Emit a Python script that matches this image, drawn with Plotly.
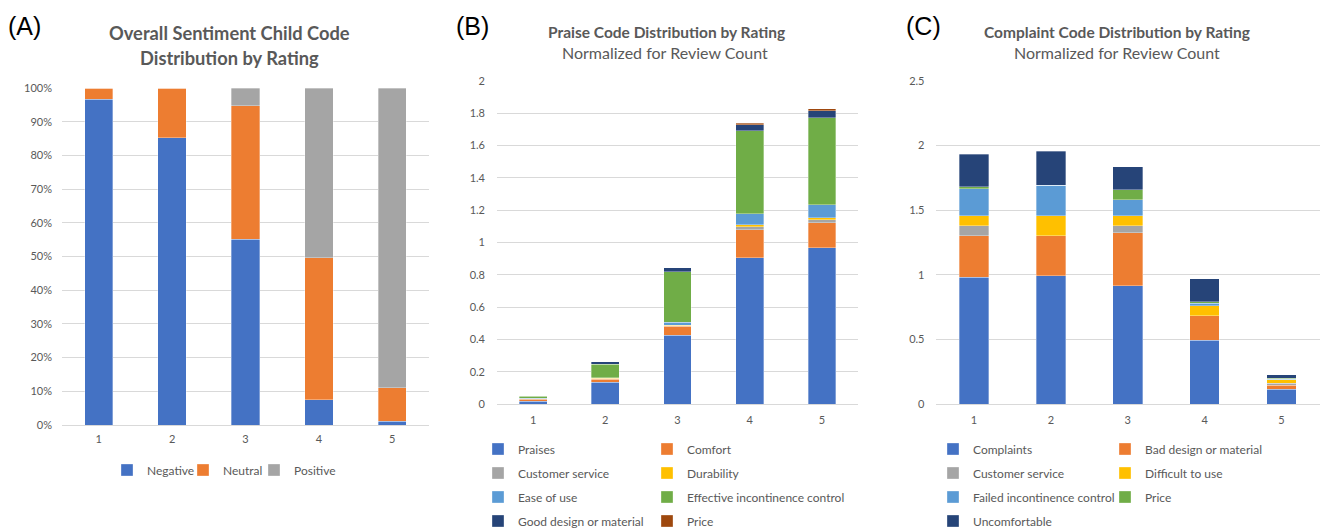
import plotly.graph_objects as go

W, H = 1320, 529

ratings = ["1", "2", "3", "4", "5"]

# Panel A: overall sentiment (percent of reviews)
negative = [96.7, 85.3, 55.1, 7.5, 1.1]
neutral = [3.3, 14.7, 39.6, 42.1, 9.9]
positive = [0.0, 0.0, 5.3, 50.4, 89.0]

# Panel B: praise codes, normalized for review count
praises = [0.017, 0.136, 0.426, 0.905, 0.967]
comfort = [0.012, 0.016, 0.055, 0.173, 0.156]
customer_service_b = [0.002, 0.004, 0.005, 0.019, 0.017]
durability = [0.002, 0.002, 0.003, 0.012, 0.014]
ease_of_use = [0.003, 0.004, 0.017, 0.070, 0.079]
effective_control = [0.012, 0.083, 0.313, 0.514, 0.539]
good_design = [0.003, 0.018, 0.025, 0.037, 0.045]
price_b = [0.0, 0.0, 0.0, 0.009, 0.010]

# Panel C: complaint codes, normalized for review count
complaints = [0.983, 0.991, 0.916, 0.494, 0.114]
bad_design = [0.318, 0.310, 0.408, 0.189, 0.033]
customer_service_c = [0.078, 0.0, 0.055, 0.0, 0.013]
difficult_to_use = [0.080, 0.158, 0.080, 0.077, 0.026]
failed_control = [0.207, 0.235, 0.121, 0.021, 0.005]
price_c = [0.015, 0.0, 0.078, 0.011, 0.008]
uncomfortable = [0.254, 0.264, 0.179, 0.178, 0.026]

BLUE = "#4472C4"
ORANGE = "#ED7D31"
GRAY = "#A5A5A5"
YELLOW = "#FFC000"
LBLUE = "#5B9BD5"
GREEN = "#70AD47"
NAVY = "#264478"
BROWN = "#9E480E"
TXT = "#595959"
GRID = "#D9D9D9"
FONT = "Lato"


def px(x):
    return x / W


def py(y):
    return 1 - y / H


fig = go.Figure()


def add_bar(name, values, color, xa, ya, legend, group):
    fig.add_trace(go.Bar(
        x=ratings, y=values, name=name,
        marker=dict(color=color, line=dict(color="rgba(255,255,255,0.55)", width=0.6)),
        xaxis=xa, yaxis=ya, legend=legend, legendgroup=group, showlegend=True,
        hoverinfo="name+y",
    ))


# Panel A
add_bar("Negative", negative, BLUE, "x", "y", "legend", "a1")
add_bar("Neutral", neutral, ORANGE, "x", "y", "legend2", "a2")
add_bar("Positive", positive, GRAY, "x", "y", "legend3", "a3")

# Panel B (two legend columns)
add_bar("Praises", praises, BLUE, "x2", "y2", "legend4", "b1")
add_bar("Comfort", comfort, ORANGE, "x2", "y2", "legend5", "b2")
add_bar("Customer service", customer_service_b, GRAY, "x2", "y2", "legend4", "b3")
add_bar("Durability", durability, YELLOW, "x2", "y2", "legend5", "b4")
add_bar("Ease of use", ease_of_use, LBLUE, "x2", "y2", "legend4", "b5")
add_bar("Effective incontinence control", effective_control, GREEN, "x2", "y2", "legend5", "b6")
add_bar("Good design or material", good_design, NAVY, "x2", "y2", "legend4", "b7")
add_bar("Price", price_b, BROWN, "x2", "y2", "legend5", "b8")

# Panel C
add_bar("Complaints", complaints, BLUE, "x3", "y3", "legend6", "c1")
add_bar("Bad design or material", bad_design, ORANGE, "x3", "y3", "legend7", "c2")
add_bar("Customer service", customer_service_c, GRAY, "x3", "y3", "legend6", "c3")
add_bar("Difficult to use", difficult_to_use, YELLOW, "x3", "y3", "legend7", "c4")
add_bar("Failed incontinence control", failed_control, LBLUE, "x3", "y3", "legend6", "c5")
add_bar("Price", price_c, GREEN, "x3", "y3", "legend7", "c6")
add_bar("Uncomfortable", uncomfortable, NAVY, "x3", "y3", "legend6", "c7")

tickfont = dict(family=FONT, size=11, color=TXT)

xcommon = dict(type="category", showgrid=False, zeroline=False, showline=False,
               ticks="", tickfont=tickfont, fixedrange=True)
ycommon = dict(showgrid=True, gridcolor=GRID, gridwidth=1, zeroline=True,
               zerolinecolor=GRID, zerolinewidth=1, showline=False, ticks="",
               tickfont=tickfont, fixedrange=True)

fig.update_layout(
    width=W, height=H,
    margin=dict(l=0, r=0, t=0, b=0, autoexpand=False),
    paper_bgcolor="white", plot_bgcolor="white",
    barmode="stack", bargap=0.615,
    showlegend=True,
    font=dict(family=FONT, color=TXT),
    xaxis=dict(domain=[px(62), px(429)], anchor="y", ticklabelstandoff=6, **xcommon),
    yaxis=dict(domain=[py(425), py(88)], anchor="x", range=[0, 100], dtick=10,
               ticksuffix="%", ticklabelstandoff=9, **ycommon),
    xaxis2=dict(domain=[px(497), px(858)], anchor="y2", ticklabelstandoff=8, **xcommon),
    yaxis2=dict(domain=[py(404), py(81)], anchor="x2", range=[0, 2], dtick=0.2,
                ticklabelstandoff=11, **ycommon),
    xaxis3=dict(domain=[px(935.5), px(1320)], anchor="y3", ticklabelstandoff=8, **xcommon),
    yaxis3=dict(domain=[py(404), py(81)], anchor="x3", range=[0, 2.5], dtick=0.5,
                ticklabelstandoff=10, **ycommon),
)

legfont = dict(family=FONT, size=12, color=TXT)


def legend_cfg(xp, yp):
    return dict(x=px(xp), y=py(yp), xanchor="left", yanchor="middle",
                orientation="v", font=legfont, bgcolor="rgba(0,0,0,0)",
                borderwidth=0, itemwidth=30, tracegroupgap=5,
                traceorder="grouped", itemclick=False, itemdoubleclick=False)


fig.update_layout(
    legend=legend_cfg(107, 470),
    legend2=legend_cfg(183, 470),
    legend3=legend_cfg(254, 470),
    legend4=legend_cfg(478, 485),
    legend5=legend_cfg(647, 485),
    legend6=legend_cfg(933, 485),
    legend7=legend_cfg(1105, 473),
)

annotations = [
    dict(text="(A)", x=px(6), y=py(26), xanchor="left", yanchor="middle",
         font=dict(family="Liberation Sans", size=25, color="black")),
    dict(text="(B)", x=px(454), y=py(26), xanchor="left", yanchor="middle",
         font=dict(family="Liberation Sans", size=25, color="black")),
    dict(text="(C)", x=px(904), y=py(26), xanchor="left", yanchor="middle",
         font=dict(family="Liberation Sans", size=25, color="black")),
    dict(text="<b>Overall Sentiment Child Code</b>", x=px(229), y=py(33),
         xanchor="center", yanchor="middle", font=dict(family=FONT, size=18.3, color=TXT)),
    dict(text="<b>Distribution by Rating</b>", x=px(229), y=py(58),
         xanchor="center", yanchor="middle", font=dict(family=FONT, size=18.3, color=TXT)),
    dict(text="<b>Praise Code Distribution by Rating</b>", x=px(666.5), y=py(32),
         xanchor="center", yanchor="middle", font=dict(family=FONT, size=15.5, color=TXT)),
    dict(text="Normalized for Review Count", x=px(665), y=py(53),
         xanchor="center", yanchor="middle", font=dict(family=FONT, size=16, color=TXT)),
    dict(text="<b>Complaint Code Distribution by Rating</b>", x=px(1117), y=py(32),
         xanchor="center", yanchor="middle", font=dict(family=FONT, size=15.5, color=TXT)),
    dict(text="Normalized for Review Count", x=px(1117), y=py(53),
         xanchor="center", yanchor="middle", font=dict(family=FONT, size=16, color=TXT)),
]
for a in annotations:
    a.update(xref="paper", yref="paper", showarrow=False)
fig.update_layout(annotations=annotations)

fig.write_html(
    "out.html",
    config={"displayModeBar": False},
    post_script="document.body.style.margin='0';document.body.style.overflow='hidden';",
)
